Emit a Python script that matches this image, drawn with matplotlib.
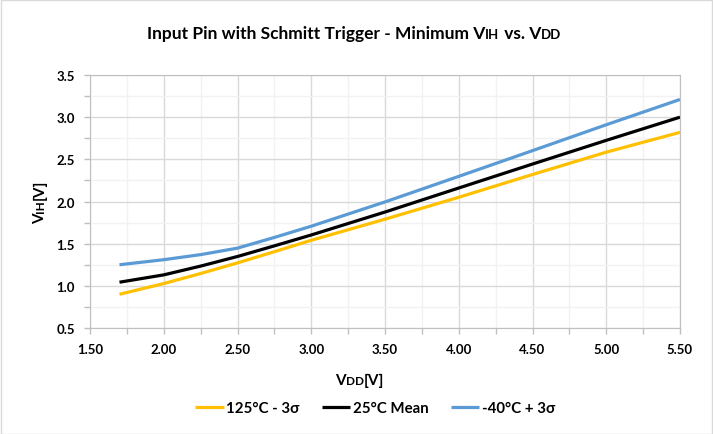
import matplotlib
matplotlib.use("Agg")
import matplotlib.pyplot as plt
from matplotlib.ticker import MultipleLocator, FormatStrFormatter
from matplotlib.patches import Rectangle

plt.rcParams['font.family'] = ['Lato', 'DejaVu Sans']
plt.rcParams['font.weight'] = 'bold'

# data
vdd = [1.7, 2.0, 2.25, 2.5, 2.75, 3.0, 3.5, 4.0, 4.5, 5.0, 5.5]
vih_125 = [0.90, 1.027, 1.146, 1.272, 1.405, 1.54, 1.79, 2.05, 2.32, 2.585, 2.82]
vih_25 = [1.043, 1.13, 1.234, 1.348, 1.474, 1.603, 1.875, 2.16, 2.444, 2.725, 3.00]
vih_m40 = [1.25, 1.31, 1.37, 1.447, 1.574, 1.707, 1.995, 2.298, 2.603, 2.91, 3.21]
labels = ['125°C - 3σ', '25°C Mean', '-40°C + 3σ']
colors = ['#FFC000', '#000000', '#5B9BD5']

W, H = 713, 435
fig = plt.figure(figsize=(W / 100, H / 100), dpi=100)
ax = fig.add_axes([90 / W, 1 - 329 / H, 590 / W, 253 / H])

for y, lab, c in zip([vih_125, vih_25, vih_m40], labels, colors):
    ax.plot(vdd, y, color=c, lw=2.3, label=lab, solid_capstyle='butt')

ax.set_xlim(1.5, 5.5)
ax.set_ylim(0.5, 3.5)
ax.xaxis.set_major_locator(MultipleLocator(0.5))
ax.xaxis.set_minor_locator(MultipleLocator(0.25))
ax.yaxis.set_major_locator(MultipleLocator(0.5))
ax.yaxis.set_minor_locator(MultipleLocator(0.25))
ax.xaxis.set_major_formatter(FormatStrFormatter('%.2f'))
ax.yaxis.set_major_formatter(FormatStrFormatter('%.1f'))
ax.grid(which='major', color='#D9D9D9', lw=1)
ax.grid(which='minor', color='#F2F2F2', lw=1)
ax.set_axisbelow(True)
ax.tick_params(which='both', direction='out', length=4, color='#BFBFBF', width=1)
ax.tick_params(which='major', labelsize=9.5, pad=7)
for s in ax.spines.values():
    s.set_color('#BFBFBF')
for t in ax.get_xticklabels() + ax.get_yticklabels():
    t.set_fontweight('bold')

fig.legend(loc='center', bbox_to_anchor=(375 / W, 1 - 409 / H), ncol=3, frameon=False,
           handlelength=1.9, columnspacing=1.5, handletextpad=0.15,
           prop={'weight': 'bold', 'size': 10.8})

fig.patches.append(Rectangle((0.5 / W, 0.5 / H), 1 - 1.5 / W, 1 - 1.5 / H,
                             transform=fig.transFigure, fill=False,
                             edgecolor='#D9D9D9', lw=1))

# texts with small caps parts, drawn piece by piece
fig.canvas.draw()
renderer = fig.canvas.get_renderer()


def pieces(parts, x, y, rot=0, center=True):
    # parts: list of (text, size); x,y in pixels (baseline)
    items = []
    total = 0
    for s, size in parts:
        t = fig.text(0, 0, s, fontsize=size, fontweight='bold', rotation=rot,
                     rotation_mode='anchor', ha='left', va='baseline',
                     transform=None)
        bb = t.get_window_extent(renderer)
        w = bb.width if rot == 0 else bb.height
        items.append((t, w))
        total += w
    pos = -total / 2 if center else 0
    for t, w in items:
        if rot == 0:
            t.set_position((x + pos, y))
        else:
            t.set_position((x, y + pos))
        pos += w


big, small = 12.5, 9.5
pieces([('Input Pin with Schmitt Trigger - Minimum V', big), ('IH', small),
        (' vs. V', big), ('DD', small)], 354, H - 39)
pieces([('V', 11), ('DD', 8.5), ('[V]', 11)], 360, H - 385)
pieces([('V', 11), ('IH', 8.5), ('[V]', 11)], 44, H - 202, rot=90)

fig.savefig('out.png', dpi=100)
